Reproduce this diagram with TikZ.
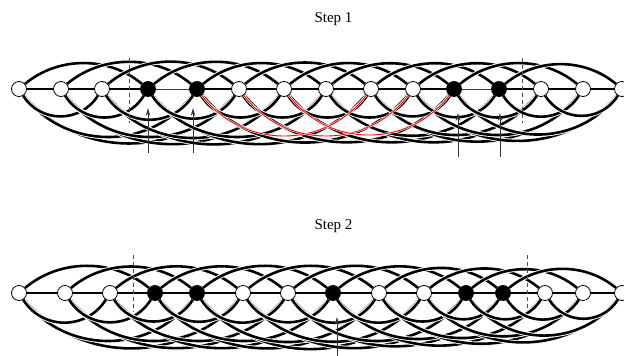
\documentclass[tikz,border=0pt]{standalone}
\usepackage{fontspec}
\setmainfont{Liberation Serif}
\usetikzlibrary{arrows.meta,backgrounds}
\begin{document}
\begin{tikzpicture}[x=1pt,y=1pt,
  vtx/.style={circle,draw=black,line width=0.8pt,fill=white,minimum size=15pt,inner sep=0pt},
  bvtx/.style={vtx,fill=black},
  straight/.style={line width=2pt,black},
  thinline/.style={line width=0.9pt,black!75},
  arcline/.style={line width=2.6pt,black,preaction={draw=white,line width=4.4pt}},
  redline/.style={line width=0.9pt,red,preaction={draw=white,line width=2pt}},
  upthree/.style={out=40,in=140,looseness=0.95},
  lowtwo/.style={out=-58,in=-122,looseness=1.12},
  lowfour/.style={out=-53,in=-127,looseness=1.06},
  lowfive/.style={out=-50,in=-130,looseness=1.03},
  cut/.style={dashed,dash pattern=on 4pt off 3pt,line width=0.9pt,black!70},
  pointer/.style={line width=0.9pt,black!80,-{Stealth[length=8pt,width=4.5pt]}},
  lbl/.style={font=\fontsize{15}{18}\selectfont,anchor=base,inner sep=0pt}
]
\useasboundingbox (0,0) rectangle (624,-356);
\clip (0,0) rectangle (624,-356);

% ---------- labels
\node[lbl] (t1) at (333.5,-22.5) {Step 1};
\node[lbl] (t2) at (333.5,-229.5) {Step 2};

% ---------- nodes step 1
\foreach \x/\s [count=\i from 0] in {19/vtx,61/vtx,102/vtx,148/bvtx,197/bvtx,239/vtx,284/vtx,326/vtx,371/vtx,413/vtx,454/bvtx,499/bvtx,541/vtx,583/vtx,622/vtx}
  \node[\s] (a\i) at (\x,-89) {};
% ---------- nodes step 2
\foreach \x/\s [count=\i from 0] in {19/vtx,65/vtx,110/vtx,155/bvtx,197/bvtx,243/vtx,288/vtx,333/bvtx,379/vtx,424/vtx,466/bvtx,503/bvtx,545/vtx,583/vtx,622/vtx}
  \node[\s] (b\i) at (\x,-293) {};

\begin{scope}[on background layer]
  \fill[white] (0,0) rectangle (624,-356);
  % step 1 straight edges
  \foreach \i/\j in {0/1,1/2,2/3,4/5,5/6,6/7,7/8,8/9,9/10,11/12,12/13,13/14}
    \draw[straight] (a\i) -- (a\j);
  \draw[thinline] (a3) -- (a4);
  \draw[thinline] (a10) -- (a11);
  % step 2 straight edges
  \foreach \i in {0,...,13}{
    \pgfmathtruncatemacro\j{\i+1}
    \draw[straight] (b\i) -- (b\j);
  }
  % step 1 arcs
  \foreach \i in {0,...,14}{
    \pgfmathtruncatemacro\jtwo{\i+2}
    \pgfmathtruncatemacro\jthree{\i+3}
    \pgfmathtruncatemacro\jfour{\i+4}
    \pgfmathtruncatemacro\jfive{\i+5}
    \ifnum\jfive<15 \draw[arcline] (a\i) to[lowfive] (a\jfive); \fi
    \ifnum\jfour<15
      \ifnum\i<4 \draw[arcline] (a\i) to[lowfour] (a\jfour);
      \else\ifnum\i>6 \draw[arcline] (a\i) to[lowfour] (a\jfour);
      \fi\fi
    \fi
    \ifnum\jtwo<15 \draw[arcline] (a\i) to[lowtwo] (a\jtwo); \fi
    \ifnum\jthree<15 \draw[arcline] (a\i) to[upthree] (a\jthree); \fi
  }
  % red edges of step 1
  \foreach \i/\j in {4/8,5/9,6/10}
    \draw[redline] (a\i) to[lowfour] (a\j);
  % step 2 arcs
  \foreach \i in {0,...,14}{
    \pgfmathtruncatemacro\jtwo{\i+2}
    \pgfmathtruncatemacro\jthree{\i+3}
    \pgfmathtruncatemacro\jfour{\i+4}
    \pgfmathtruncatemacro\jfive{\i+5}
    \ifnum\jfive<15 \draw[arcline] (b\i) to[lowfive] (b\jfive); \fi
    \ifnum\jfour<15 \draw[arcline] (b\i) to[lowfour] (b\jfour); \fi
    \ifnum\jtwo<15 \draw[arcline] (b\i) to[lowtwo] (b\jtwo); \fi
    \ifnum\jthree<15 \draw[arcline] (b\i) to[upthree] (b\jthree); \fi
  }
\end{scope}

% ---------- dashed cut lines
\coordinate (c1t) at (129,-58);  \coordinate (c1b) at (129,-123);
\coordinate (c2t) at (522,-58);  \coordinate (c2b) at (522,-123);
\coordinate (c3t) at (133,-255); \coordinate (c3b) at (133,-312);
\coordinate (c4t) at (527,-255); \coordinate (c4b) at (527,-312);
\draw[cut] (c1t) -- (c1b);
\draw[cut] (c2t) -- (c2b);
\draw[cut] (c3t) -- (c3b);
\draw[cut] (c4t) -- (c4b);

% ---------- arrows
\coordinate (p1s) at (148,-153); \coordinate (p1e) at (148,-108);
\coordinate (p2s) at (193,-153); \coordinate (p2e) at (193,-108);
\coordinate (p3s) at (458,-157); \coordinate (p3e) at (458,-113);
\coordinate (p4s) at (500,-157); \coordinate (p4e) at (500,-113);
\coordinate (p5s) at (337,-358); \coordinate (p5e) at (337,-317);
\draw[pointer] (p1s) -- (p1e);
\draw[pointer] (p2s) -- (p2e);
\draw[pointer] (p3s) -- (p3e);
\draw[pointer] (p4s) -- (p4e);
\draw[pointer] (p5s) -- (p5e);
\end{tikzpicture}
\end{document}
